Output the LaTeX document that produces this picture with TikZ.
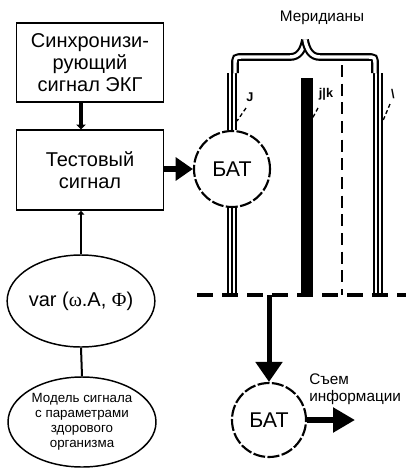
\documentclass[tikz,border=0pt]{standalone}
\usepackage{fontspec}
\setmainfont{Liberation Sans}
\newfontfamily\grk{Liberation Serif}
\usetikzlibrary{arrows.meta,shapes.geometric,calc}
\begin{document}
\begin{tikzpicture}[x=0.75pt,y=-0.75pt,
  box/.style={draw,line width=1.1pt,minimum width=110pt,inner sep=0pt,align=center,font=\fontsize{15}{16.5}\selectfont},
  oval/.style={draw,ellipse,line width=1.1pt,inner sep=0pt,align=center},
  bat/.style={draw,circle,line width=1.6pt,dash pattern=on 9pt off 1.8pt,inner sep=0pt,minimum size=57pt,font=\fontsize{16}{18}\selectfont},
  fat/.style={line width=4.5pt,-{Triangle[length=13pt,width=17pt]}},
  merid/.style={line width=1.4pt},
  lbl/.style={font=\fontsize{9.5}{10}\selectfont\bfseries,inner sep=0pt},
  leader/.style={line width=1pt,dash pattern=on 3pt off 2pt},
  brace/.style={line width=1.6pt,double=white,double distance=2.6pt},
]
\fill[white] (0,0) rectangle (406,472);
\useasboundingbox (0,0) rectangle (406,472);

\node[box,minimum height=59.25pt] (sync) at (90,62.5) {Синхронизи-\\рующий\\сигнал ЭКГ};
\node[box,minimum height=60pt] (test) at (90,170) {Тестовый\\сигнал};
\node[oval,minimum width=108pt,minimum height=69pt,font=\fontsize{15}{16.5}\selectfont] (var) at (81,301) {var ({\grk ω}.A, {\grk Φ})};
\node[oval,minimum width=111pt,minimum height=67.5pt,font=\fontsize{10}{11.25}\selectfont] (model) at (82,422) {Модель сигнала\\с параметрами\\здорового\\организма};
\node[bat] (bat1) at (232,169) {БАТ};
\node[bat,minimum size=55.5pt] (bat2) at (269,420) {БАТ};
\node[font=\fontsize{11.5}{13}\selectfont] (mer) at (322,18) {Меридианы};
\node[anchor=west,align=left,inner sep=0pt,font=\fontsize{11.5}{12.75}\selectfont] (info) at (309,389) {Съем\\информации};

% connectors on the left
\draw[line width=2.5pt,-{Triangle[length=3.5pt,width=7pt]}] (sync.south -| var.north) -- (test.north -| var.north);
\draw[line width=1.5pt,-{Triangle[length=3pt,width=5pt]}] (var.north) -- (var.north |- test.south);
\draw[line width=1.5pt] (var.south) -- (model.north);
\draw[fat] (test.east |- bat1.west) -- (bat1.west);

% meridians
\coordinate (lt) at (232,73);
\coordinate (lb) at (232,295);
\coordinate (rt) at (378,73);
\coordinate (rb) at (378,295);
\foreach \d in {-3.6,0,3.6} {
  \draw[merid] ([xshift=\d*0.75pt]lt) -- ([xshift=\d*0.75pt]bat1.north);
  \draw[merid] ([xshift=\d*0.75pt]bat1.south) -- ([xshift=\d*0.75pt]lb);
}
\foreach \d in {-4.3,0,4.3} {
  \draw[merid] ([xshift=\d*0.75pt]rt) -- ([xshift=\d*0.75pt]rb);
}
\fill (301,78) rectangle (313,295);
\draw[line width=1.5pt,dash pattern=on 9pt off 5pt] (342,65) -- (342,295);
\draw[line width=2.3pt,dash pattern=on 12pt off 6.75pt] (197,295) -- (406,295);

% brace
\draw[brace] (235,73) -- (235,65) .. controls (235,57) .. (243,57) -- (290,57) .. controls (299,57) and (303,50) .. (305,40);
\draw[brace] (375,73) -- (375,65) .. controls (375,57) .. (367,57) -- (320,57) .. controls (311,57) and (307,50) .. (305,40);

% labels with leaders
\node[lbl] (lj) at (250,97) {J};
\draw[leader] (246,108) -- (237,121);
\node[lbl] (ljk) at (326,94) {j|k};
\draw[leader] (318,108) -- (312,119);
\node[lbl] (lx) at (393,94) {\textbackslash};
\draw[leader] (390,104) -- (382,123);

% output
\coordinate (dl) at (269,295);
\draw[line width=3.75pt,-{Triangle[length=15pt,width=19.5pt]}] (dl) -- (bat2.north);
\coordinate (out) at (355,420);
\draw[line width=4pt,-{Triangle[length=16.5pt,width=18pt]}] (bat2.east) -- (out);
\end{tikzpicture}
\end{document}
